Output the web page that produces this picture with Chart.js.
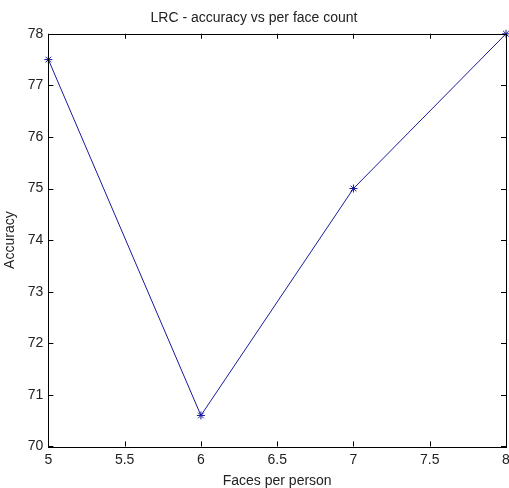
<!DOCTYPE html>
<html>
<head>
<meta charset="utf-8">
<script src="https://cdn.jsdelivr.net/npm/chart.js@4.4.0/dist/chart.umd.min.js"></script>
<style>
  html, body { margin: 0; padding: 0; background: #fff; }
  #wrap { width: 509px; height: 488px; }
</style>
</head>
<body>
<div id="wrap"><canvas id="accChart" width="509" height="488"></canvas></div>
<script>
const facesPerPerson = [5, 6, 7, 8];
const accuracy = [77.5, 70.6, 75, 78];

// ticks pointing inward on all four sides, MATLAB style
const boxTicks = {
    id: 'boxTicks',
    afterDraw(chart) {
        const ctx = chart.ctx;
        const a = chart.chartArea;
        const xs = chart.scales.x, ys = chart.scales.y;
        const len = 5;
        ctx.save();
        ctx.strokeStyle = '#000';
        ctx.lineWidth = 1;
        ctx.strokeRect(Math.round(a.left) + 0.5, Math.round(a.top) + 0.5,
            Math.round(a.right - a.left), Math.round(a.bottom - a.top));
        ctx.beginPath();
        xs.ticks.forEach(t => {
            const px = Math.round(xs.getPixelForValue(t.value)) + 0.5;
            ctx.moveTo(px, a.bottom); ctx.lineTo(px, a.bottom - len);
            ctx.moveTo(px, a.top); ctx.lineTo(px, a.top + len);
        });
        ys.ticks.forEach(t => {
            const py = Math.round(ys.getPixelForValue(t.value)) + 0.5;
            ctx.moveTo(a.left, py); ctx.lineTo(a.left + len, py);
            ctx.moveTo(a.right, py); ctx.lineTo(a.right - len, py);
        });
        ctx.stroke();
        ctx.restore();
    }
};

const fontFam = 'Liberation Sans, Arial, sans-serif';

new Chart(document.getElementById('accChart'), {
    type: 'line',
    data: {
        datasets: [{
            label: 'LRC',
            data: facesPerPerson.map((f, i) => ({ x: f, y: accuracy[i] })),
            borderColor: '#1a1a9c',
            borderWidth: 1,
            pointStyle: 'star',
            pointRadius: 4,
            pointBorderColor: '#1a1a9c',
            pointBorderWidth: 1,
            tension: 0,
            clip: false
        }]
    },
    options: {
        responsive: false,
        animation: false,
        layout: { autoPadding: false, padding: { left: 2, right: 3, top: 0, bottom: -2 } },
        plugins: {
            legend: { display: false },
            tooltip: { enabled: false },
            title: {
                display: true,
                text: 'LRC - accuracy vs per face count',
                color: '#222',
                font: { family: fontFam, size: 14, weight: 'normal' },
                padding: { top: 10, bottom: 7 }
            }
        },
        scales: {
            x: {
                type: 'linear',
                min: 5, max: 8,
                afterFit(scale) { scale.paddingRight = 0; },
                ticks: {
                    stepSize: 0.5,
                    color: '#222',
                    padding: 5,
                    maxRotation: 0,
                    callback: v => String(v),
                    font: { family: fontFam, size: 14 }
                },
                grid: { display: false, drawTicks: false },
                border: { display: false },
                title: {
                    display: true,
                    text: 'Faces per person',
                    color: '#222',
                    font: { family: fontFam, size: 14 },
                    padding: { top: 0, bottom: 0 }
                }
            },
            y: {
                min: 70, max: 78,
                ticks: {
                    stepSize: 1,
                    color: '#222',
                    padding: 5,
                    callback: v => String(v),
                    font: { family: fontFam, size: 14 }
                },
                grid: { display: false, drawTicks: false },
                border: { display: false },
                title: {
                    display: true,
                    text: 'Accuracy',
                    color: '#222',
                    font: { family: fontFam, size: 14 },
                    padding: { top: 0, bottom: 4 }
                }
            }
        }
    },
    plugins: [boxTicks]
});
</script>
</body>
</html>
